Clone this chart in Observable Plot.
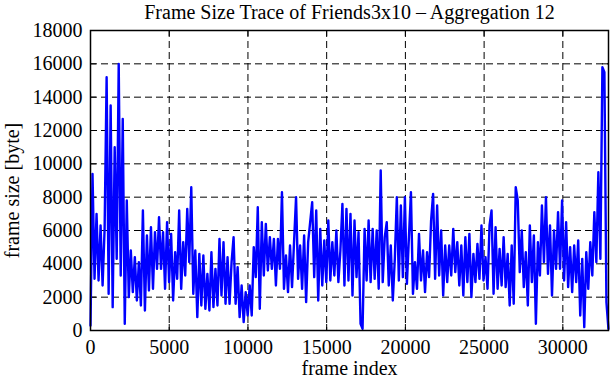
<!DOCTYPE html>
<html><head><meta charset="utf-8">
<script src="https://cdn.jsdelivr.net/npm/d3@7"></script>
<script src="https://cdn.jsdelivr.net/npm/@observablehq/plot@0.6"></script>
<style>
body{margin:0;background:#fff;}
svg text{font-family:"Liberation Serif","Times New Roman",serif;}
</style></head><body>
<div id="chart"></div>
<script>
const titleText = "Frame Size Trace of Friends3x10 – Aggregation 12";
const xLabel = "frame index";
const yLabel = "frame size [byte]";
const framesPerPoint = 128;
const xMax = 32900;
const yMax = 18000;
const frameSizes = [
  300, 9400, 3100, 7000, 3000, 6300, 2700, 6100, 15200, 2200, 13500, 1400, 11000, 4300, 16000, 3300, 12700, 400, 7800, 2000,
  4800, 2300, 4400, 1800, 4100, 1500, 7200, 1200, 5700, 2400, 6200, 2500, 5900, 3700, 6800, 3700, 5900,
  2500, 6500, 2900, 5800, 1800, 4700, 3100, 7200, 2500, 5300, 3300, 7300, 4100, 8600, 2200, 4800, 800, 4600, 1500,
  4500, 1300, 3400, 1200, 4700, 1400, 3700, 1500, 5500, 2100, 5300, 1600, 4400, 1600, 4100, 5600, 1600,
  3800, 800, 2700, 500, 2300, 900, 2700, 900, 5000, 3200, 7400, 1300, 6500, 3300, 6400, 3600, 5600, 3700, 5500, 2700,
  5500, 3700, 8300, 2500, 4500, 2300, 5100, 2600, 5300, 8000, 3100, 5100, 2500, 5700, 1700, 5300, 6500,
  7700, 3200, 7200, 1800, 6100, 2700, 5400, 2900, 6600, 3000, 5300, 3300, 6000, 2900, 4800, 7600, 2700, 7300, 3000, 7000,
  2100, 6600, 3200, 5900, 400, 100, 6100, 3000, 6600, 2900, 6100, 3100, 6000, 2500, 9600, 2900, 5600,
  6500, 2700, 5100, 1800, 4300, 8000, 3000, 7500, 3200, 8000, 2800, 5600, 8300, 2200, 4100, 2500, 5800, 3000, 4800, 2300,
  4700, 3200, 6600, 8200, 3100, 7500, 3300, 6000, 2100, 5100, 2900, 5100, 3300, 6100, 3500, 5300, 2700,
  5100, 2100, 5600, 2900, 5800, 2000, 4600, 2900, 5200, 3100, 6300, 3000, 4400, 2500, 6300, 7200, 2200, 6200, 2500, 4900,
  2700, 5600, 2600, 4600, 1500, 5100, 1600, 8600, 7800, 3500, 6000, 2600, 4700, 1500, 6300, 2900, 5700,
  400, 5300, 3300, 7500, 4100, 8000, 3400, 6300, 2100, 6000, 3700, 7100, 3700, 7800, 3000, 6500, 2600, 5000, 2300, 5100,
  2900, 5400, 900, 4300, 200, 4700, 2500, 5300, 3300, 7100, 4100, 9500, 4300, 15800, 15500, 1700, 100
];
const xTicks = [0, 5000, 10000, 15000, 20000, 25000, 30000];
const yTicks = [0, 2000, 4000, 6000, 8000, 10000, 12000, 14000, 16000, 18000];

const data = frameSizes.map((v, i) => ({frame: i * framesPerPoint, size: v}));
const fmt = d => String(d);
const serif = "Liberation Serif";

const chart = Plot.plot({
  width: 611, height: 380,
  marginTop: 30, marginBottom: 50, marginLeft: 90, marginRight: 3,
  style: {fontFamily: serif, fontSize: "20px", background: "white", color: "black"},
  x: {domain: [0, xMax]},
  y: {domain: [0, yMax]},
  marks: [
    Plot.gridX(xTicks, {stroke: "black", strokeOpacity: 1, strokeWidth: 1, strokeDasharray: "7,4"}),
    Plot.gridY(yTicks, {stroke: "black", strokeOpacity: 1, strokeWidth: 1, strokeDasharray: "7,4"}),
    Plot.tickX(xTicks, {x: d => d, insetTop: 294, stroke: "black"}),
    Plot.tickX(xTicks, {x: d => d, insetBottom: 294, stroke: "black"}),
    Plot.tickY(yTicks, {y: d => d, insetRight: 512, stroke: "black"}),
    Plot.tickY(yTicks, {y: d => d, insetLeft: 512, stroke: "black"}),
    Plot.lineY(data, {x: "frame", y: "size", stroke: "#0000ff", strokeWidth: 2.4}),
    Plot.frame({stroke: "black", strokeWidth: 1.5}),
    Plot.axisX(xTicks, {tickSize: 0, tickPadding: 9, label: null, tickFormat: fmt, fontFamily: serif, fontSize: 20}),
    Plot.axisY(yTicks, {tickSize: 0, tickPadding: 8, label: null, tickFormat: fmt, fontFamily: serif, fontSize: 20}),
    Plot.text([titleText], {text: d => d, frameAnchor: "top", lineAnchor: "middle", textAnchor: "middle", dy: -18, fontFamily: serif, fontSize: 20}),
    Plot.text([xLabel], {text: d => d, frameAnchor: "bottom", lineAnchor: "middle", textAnchor: "middle", dy: 38, fontFamily: serif, fontSize: 20}),
    Plot.text([yLabel], {text: d => d, frameAnchor: "left", textAnchor: "middle", lineAnchor: "middle", dx: -78, dy: 10, rotate: -90, fontFamily: serif, fontSize: 20})
  ]
});
document.getElementById("chart").appendChild(chart);
</script>
</body></html>
